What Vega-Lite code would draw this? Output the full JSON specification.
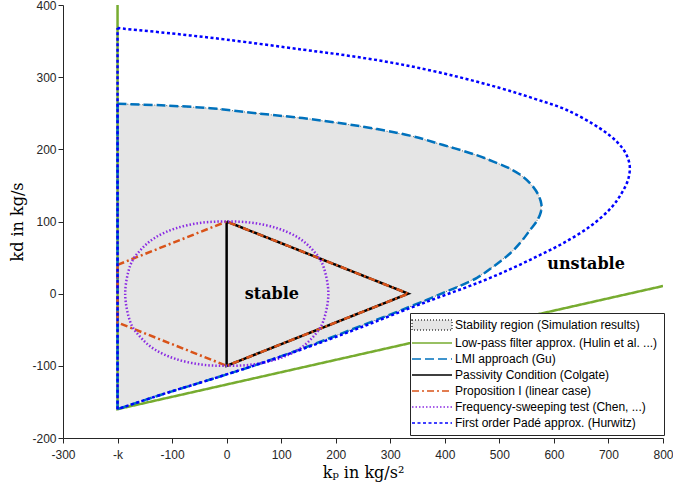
{
  "$schema": "https://vega.github.io/schema/vega-lite/v6.json",
  "width": 600,
  "height": 433,
  "autosize": "none",
  "padding": {"left": 63, "top": 5, "right": 10, "bottom": 50},
  "config": {
    "view": {"stroke": null},
    "axis": {
      "domainColor": "#262626", "tickColor": "#262626", "labelColor": "#262626", "zindex": 1,
      "labelFont": "Liberation Sans", "labelFontSize": 12, "tickSize": 5, "ticks": true, "grid": false,
      "titleFont": "DejaVu Serif", "titleFontSize": 16, "titleFontWeight": "normal", "titleColor": "black",
      "labelFlush": false, "labelOverlap": false, "labelBound": false
    }
  },
  "datasets": {
    "region": [
      {"i": 1, "kp": -200, "kd": -160, "series": "Stability region (Simulation results)"},
      {"i": 2, "kp": -200, "kd": 263, "series": "Stability region (Simulation results)"},
      {"i": 3, "kp": -120, "kd": 261, "series": "Stability region (Simulation results)"},
      {"i": 4, "kp": -30, "kd": 257, "series": "Stability region (Simulation results)"},
      {"i": 5, "kp": 61, "kd": 249.5, "series": "Stability region (Simulation results)"},
      {"i": 6, "kp": 153, "kd": 242, "series": "Stability region (Simulation results)"},
      {"i": 7, "kp": 245, "kd": 232, "series": "Stability region (Simulation results)"},
      {"i": 8, "kp": 336, "kd": 219, "series": "Stability region (Simulation results)"},
      {"i": 9, "kp": 397, "kd": 206, "series": "Stability region (Simulation results)"},
      {"i": 10, "kp": 458, "kd": 192, "series": "Stability region (Simulation results)"},
      {"i": 11, "kp": 489, "kd": 183, "series": "Stability region (Simulation results)"},
      {"i": 12, "kp": 520, "kd": 173, "series": "Stability region (Simulation results)"},
      {"i": 13, "kp": 545, "kd": 161, "series": "Stability region (Simulation results)"},
      {"i": 14, "kp": 562, "kd": 148, "series": "Stability region (Simulation results)"},
      {"i": 15, "kp": 572, "kd": 136, "series": "Stability region (Simulation results)"},
      {"i": 16, "kp": 577, "kd": 124, "series": "Stability region (Simulation results)"},
      {"i": 17, "kp": 576, "kd": 113, "series": "Stability region (Simulation results)"},
      {"i": 18, "kp": 569, "kd": 101, "series": "Stability region (Simulation results)"},
      {"i": 19, "kp": 556, "kd": 88, "series": "Stability region (Simulation results)"},
      {"i": 20, "kp": 540, "kd": 72, "series": "Stability region (Simulation results)"},
      {"i": 21, "kp": 520, "kd": 56, "series": "Stability region (Simulation results)"},
      {"i": 22, "kp": 490, "kd": 38, "series": "Stability region (Simulation results)"},
      {"i": 23, "kp": 459, "kd": 22, "series": "Stability region (Simulation results)"},
      {"i": 24, "kp": 397, "kd": 1, "series": "Stability region (Simulation results)"},
      {"i": 25, "kp": 336, "kd": -18, "series": "Stability region (Simulation results)"},
      {"i": 26, "kp": 245, "kd": -45, "series": "Stability region (Simulation results)"},
      {"i": 27, "kp": 153, "kd": -72, "series": "Stability region (Simulation results)"},
      {"i": 28, "kp": 61, "kd": -97, "series": "Stability region (Simulation results)"},
      {"i": 29, "kp": -30, "kd": -119, "series": "Stability region (Simulation results)"},
      {"i": 30, "kp": -120, "kd": -140, "series": "Stability region (Simulation results)"},
      {"i": 31, "kp": -200, "kd": -160, "series": "Stability region (Simulation results)"}
    ],
    "lowpass": [
      {"i": 1, "kp": -200, "kd": 400, "series": "Low-pass filter approx. (Hulin et al. ...)"},
      {"i": 2, "kp": -200, "kd": -160, "series": "Low-pass filter approx. (Hulin et al. ...)"},
      {"i": 3, "kp": 800, "kd": 10.6, "series": "Low-pass filter approx. (Hulin et al. ...)"}
    ],
    "lmiEdge": [
      {"i": 1, "kp": -200, "kd": -160, "series": "LMI approach (Gu)"},
      {"i": 2, "kp": -200, "kd": 263, "series": "LMI approach (Gu)"}
    ],
    "lmiCurve": [
      {"i": 1, "kp": -200, "kd": 263, "series": "LMI approach (Gu)"},
      {"i": 2, "kp": -120, "kd": 261, "series": "LMI approach (Gu)"},
      {"i": 3, "kp": -30, "kd": 257, "series": "LMI approach (Gu)"},
      {"i": 4, "kp": 61, "kd": 249.5, "series": "LMI approach (Gu)"},
      {"i": 5, "kp": 153, "kd": 242, "series": "LMI approach (Gu)"},
      {"i": 6, "kp": 245, "kd": 232, "series": "LMI approach (Gu)"},
      {"i": 7, "kp": 336, "kd": 219, "series": "LMI approach (Gu)"},
      {"i": 8, "kp": 397, "kd": 206, "series": "LMI approach (Gu)"},
      {"i": 9, "kp": 458, "kd": 192, "series": "LMI approach (Gu)"},
      {"i": 10, "kp": 489, "kd": 183, "series": "LMI approach (Gu)"},
      {"i": 11, "kp": 520, "kd": 173, "series": "LMI approach (Gu)"},
      {"i": 12, "kp": 545, "kd": 161, "series": "LMI approach (Gu)"},
      {"i": 13, "kp": 562, "kd": 148, "series": "LMI approach (Gu)"},
      {"i": 14, "kp": 572, "kd": 136, "series": "LMI approach (Gu)"},
      {"i": 15, "kp": 577, "kd": 124, "series": "LMI approach (Gu)"},
      {"i": 16, "kp": 576, "kd": 113, "series": "LMI approach (Gu)"},
      {"i": 17, "kp": 569, "kd": 101, "series": "LMI approach (Gu)"},
      {"i": 18, "kp": 556, "kd": 88, "series": "LMI approach (Gu)"},
      {"i": 19, "kp": 540, "kd": 72, "series": "LMI approach (Gu)"},
      {"i": 20, "kp": 520, "kd": 56, "series": "LMI approach (Gu)"},
      {"i": 21, "kp": 490, "kd": 38, "series": "LMI approach (Gu)"},
      {"i": 22, "kp": 459, "kd": 22, "series": "LMI approach (Gu)"},
      {"i": 23, "kp": 397, "kd": 1, "series": "LMI approach (Gu)"},
      {"i": 24, "kp": 336, "kd": -18, "series": "LMI approach (Gu)"},
      {"i": 25, "kp": 245, "kd": -45, "series": "LMI approach (Gu)"},
      {"i": 26, "kp": 153, "kd": -72, "series": "LMI approach (Gu)"},
      {"i": 27, "kp": 61, "kd": -97, "series": "LMI approach (Gu)"},
      {"i": 28, "kp": -30, "kd": -119, "series": "LMI approach (Gu)"},
      {"i": 29, "kp": -120, "kd": -140, "series": "LMI approach (Gu)"},
      {"i": 30, "kp": -200, "kd": -160, "series": "LMI approach (Gu)"}
    ],
    "passivity": [
      {"i": 1, "kp": 0, "kd": 100, "series": "Passivity Condition (Colgate)"},
      {"i": 2, "kp": 0, "kd": -100, "series": "Passivity Condition (Colgate)"},
      {"i": 3, "kp": 333, "kd": 0, "series": "Passivity Condition (Colgate)"},
      {"i": 4, "kp": 0, "kd": 100, "series": "Passivity Condition (Colgate)"}
    ],
    "prop": [
      {"i": 1, "kp": -200, "kd": 40, "series": "Proposition I (linear case)"},
      {"i": 2, "kp": 0, "kd": 100, "series": "Proposition I (linear case)"},
      {"i": 3, "kp": 333, "kd": 0, "series": "Proposition I (linear case)"},
      {"i": 4, "kp": 0, "kd": -100, "series": "Proposition I (linear case)"},
      {"i": 5, "kp": -200, "kd": -40, "series": "Proposition I (linear case)"},
      {"i": 6, "kp": -200, "kd": 40, "series": "Proposition I (linear case)"}
    ],
    "freq": [
      {"i": 1, "kp": 0, "kd": 100, "series": "Frequency-sweeping test (Chen, ...)"},
      {"i": 2, "kp": 47, "kd": 98.2, "series": "Frequency-sweeping test (Chen, ...)"},
      {"i": 3, "kp": 93, "kd": 90.6, "series": "Frequency-sweeping test (Chen, ...)"},
      {"i": 4, "kp": 131, "kd": 77.7, "series": "Frequency-sweeping test (Chen, ...)"},
      {"i": 5, "kp": 158, "kd": 60.3, "series": "Frequency-sweeping test (Chen, ...)"},
      {"i": 6, "kp": 177, "kd": 38.5, "series": "Frequency-sweeping test (Chen, ...)"},
      {"i": 7, "kp": 186.5, "kd": 0, "series": "Frequency-sweeping test (Chen, ...)"},
      {"i": 8, "kp": 177, "kd": -38.5, "series": "Frequency-sweeping test (Chen, ...)"},
      {"i": 9, "kp": 158, "kd": -60.3, "series": "Frequency-sweeping test (Chen, ...)"},
      {"i": 10, "kp": 131, "kd": -77.7, "series": "Frequency-sweeping test (Chen, ...)"},
      {"i": 11, "kp": 93, "kd": -90.6, "series": "Frequency-sweeping test (Chen, ...)"},
      {"i": 12, "kp": 47, "kd": -98.2, "series": "Frequency-sweeping test (Chen, ...)"},
      {"i": 13, "kp": 0, "kd": -100, "series": "Frequency-sweeping test (Chen, ...)"},
      {"i": 14, "kp": -47, "kd": -98.2, "series": "Frequency-sweeping test (Chen, ...)"},
      {"i": 15, "kp": -93, "kd": -90.6, "series": "Frequency-sweeping test (Chen, ...)"},
      {"i": 16, "kp": -131, "kd": -77.7, "series": "Frequency-sweeping test (Chen, ...)"},
      {"i": 17, "kp": -158, "kd": -60.3, "series": "Frequency-sweeping test (Chen, ...)"},
      {"i": 18, "kp": -177, "kd": -38.5, "series": "Frequency-sweeping test (Chen, ...)"},
      {"i": 19, "kp": -186, "kd": 0, "series": "Frequency-sweeping test (Chen, ...)"},
      {"i": 20, "kp": -177, "kd": 38.5, "series": "Frequency-sweeping test (Chen, ...)"},
      {"i": 21, "kp": -158, "kd": 60.3, "series": "Frequency-sweeping test (Chen, ...)"},
      {"i": 22, "kp": -131, "kd": 77.7, "series": "Frequency-sweeping test (Chen, ...)"},
      {"i": 23, "kp": -93, "kd": 90.6, "series": "Frequency-sweeping test (Chen, ...)"},
      {"i": 24, "kp": -47, "kd": 98.2, "series": "Frequency-sweeping test (Chen, ...)"}
    ],
    "padeEdge": [
      {"i": 1, "kp": -200, "kd": -160, "series": "First order Padé approx. (Hurwitz)"},
      {"i": 2, "kp": -200, "kd": 368, "series": "First order Padé approx. (Hurwitz)"}
    ],
    "padeCurve": [
      {"i": 1, "kp": -200, "kd": 368, "series": "First order Padé approx. (Hurwitz)"},
      {"i": 2, "kp": -100, "kd": 360.5, "series": "First order Padé approx. (Hurwitz)"},
      {"i": 3, "kp": 0, "kd": 352, "series": "First order Padé approx. (Hurwitz)"},
      {"i": 4, "kp": 141, "kd": 338, "series": "First order Padé approx. (Hurwitz)"},
      {"i": 5, "kp": 230, "kd": 329, "series": "First order Padé approx. (Hurwitz)"},
      {"i": 6, "kp": 318, "kd": 318, "series": "First order Padé approx. (Hurwitz)"},
      {"i": 7, "kp": 410, "kd": 303, "series": "First order Padé approx. (Hurwitz)"},
      {"i": 8, "kp": 501, "kd": 285, "series": "First order Padé approx. (Hurwitz)"},
      {"i": 9, "kp": 565, "kd": 270, "series": "First order Padé approx. (Hurwitz)"},
      {"i": 10, "kp": 623.5, "kd": 254.5, "series": "First order Padé approx. (Hurwitz)"},
      {"i": 11, "kp": 684.5, "kd": 229, "series": "First order Padé approx. (Hurwitz)"},
      {"i": 12, "kp": 716, "kd": 210, "series": "First order Padé approx. (Hurwitz)"},
      {"i": 13, "kp": 732, "kd": 194, "series": "First order Padé approx. (Hurwitz)"},
      {"i": 14, "kp": 739, "kd": 177, "series": "First order Padé approx. (Hurwitz)"},
      {"i": 15, "kp": 736, "kd": 158, "series": "First order Padé approx. (Hurwitz)"},
      {"i": 16, "kp": 724, "kd": 139, "series": "First order Padé approx. (Hurwitz)"},
      {"i": 17, "kp": 705, "kd": 119, "series": "First order Padé approx. (Hurwitz)"},
      {"i": 18, "kp": 666, "kd": 93, "series": "First order Padé approx. (Hurwitz)"},
      {"i": 19, "kp": 617, "kd": 70, "series": "First order Padé approx. (Hurwitz)"},
      {"i": 20, "kp": 570, "kd": 52, "series": "First order Padé approx. (Hurwitz)"},
      {"i": 21, "kp": 520, "kd": 34, "series": "First order Padé approx. (Hurwitz)"},
      {"i": 22, "kp": 464, "kd": 16, "series": "First order Padé approx. (Hurwitz)"},
      {"i": 23, "kp": 400, "kd": -2, "series": "First order Padé approx. (Hurwitz)"},
      {"i": 24, "kp": 336, "kd": -20, "series": "First order Padé approx. (Hurwitz)"},
      {"i": 25, "kp": 245, "kd": -47, "series": "First order Padé approx. (Hurwitz)"},
      {"i": 26, "kp": 153, "kd": -73, "series": "First order Padé approx. (Hurwitz)"},
      {"i": 27, "kp": 61, "kd": -97, "series": "First order Padé approx. (Hurwitz)"},
      {"i": 28, "kp": -30, "kd": -119, "series": "First order Padé approx. (Hurwitz)"},
      {"i": 29, "kp": -120, "kd": -140, "series": "First order Padé approx. (Hurwitz)"},
      {"i": 30, "kp": -200, "kd": -160, "series": "First order Padé approx. (Hurwitz)"}
    ],
    "labels": [
      {"kp": 83, "kd": 0, "label": "stable"},
      {"kp": 659, "kd": 41, "label": "unstable"}
    ]
  },
  "encoding": {
    "x": {
      "field": "kp", "type": "quantitative",
      "scale": {"domain": [-300, 800], "nice": false, "zero": false},
      "axis": {
        "values": [-300, -200, -100, 0, 100, 200, 300, 400, 500, 600, 700, 800],
        "labelExpr": "datum.value == -200 ? '-k' : '' + datum.value",
        "labelPadding": 6, "title": "kₚ in kg/s²", "titlePadding": 4,
        "encode": {"ticks": {"y2": {"value": -5}}}
      }
    },
    "y": {
      "field": "kd", "type": "quantitative",
      "scale": {"domain": [-200, 400], "nice": false, "zero": false},
      "axis": {
        "values": [-200, -100, 0, 100, 200, 300, 400],
        "labelExpr": "'' + datum.value",
        "labelPadding": 2, "title": "kd in kg/s", "titlePadding": 6,
        "encode": {"ticks": {"x2": {"value": 5}}}
      }
    }
  },
  "layer": [
    {
      "data": {"name": "region"},
      "mark": {"type": "line", "fill": "#e5e5e5", "clip": true},
      "encoding": {
        "order": {"field": "i", "type": "quantitative"},
        "color": {
          "field": "series", "type": "nominal",
          "scale": {
            "domain": ["Stability region (Simulation results)", "Low-pass filter approx. (Hulin et al. ...)", "LMI approach (Gu)", "Passivity Condition (Colgate)", "Proposition I (linear case)", "Frequency-sweeping test (Chen, ...)", "First order Padé approx. (Hurwitz)"],
            "range": ["#444444", "#77AC30", "#0072BD", "#000000", "#D95319", "#8A2BE2", "#0000FF"]
          },
          "legend": {
            "title": null, "orient": "none", "legendX": 347, "legendY": 308,
            "symbolType": "stroke", "symbolSize": 100, "symbolOffset": 10,
            "labelFont": "Liberation Sans", "labelFontSize": 12, "labelColor": "black",
            "strokeColor": "#262626", "fillColor": "white", "padding": 6,
            "rowPadding": 4, "labelOffset": 17, "labelLimit": 400,
            "encode": {
              "symbols": {
                "strokeDash": {"value": {"expr": "scale('strokeDash', datum.value)"}},
                "strokeWidth": {"value": {"expr": "scale('strokeWidth', datum.value)"}},
                "opacity": {"value": 1}
              }
            }
          }
        },
        "strokeDash": {
          "field": "series", "type": "nominal", "legend": null,
          "scale": {
            "type": "ordinal",
            "domain": ["Stability region (Simulation results)", "Low-pass filter approx. (Hulin et al. ...)", "LMI approach (Gu)", "Passivity Condition (Colgate)", "Proposition I (linear case)", "Frequency-sweeping test (Chen, ...)", "First order Padé approx. (Hurwitz)"],
            "range": [[1, 2], [1, 0], [9, 4], [1, 0], [7, 3, 2, 3], [1.5, 2], [3, 2.5]]
          }
        },
        "strokeWidth": {
          "field": "series", "type": "nominal", "legend": null,
          "scale": {
            "type": "ordinal",
            "domain": ["Stability region (Simulation results)", "Low-pass filter approx. (Hulin et al. ...)", "LMI approach (Gu)", "Passivity Condition (Colgate)", "Proposition I (linear case)", "Frequency-sweeping test (Chen, ...)", "First order Padé approx. (Hurwitz)"],
            "range": [0.8, 1.2, 1.3, 3.2, 2.2, 1.3, 3]
          }
        }
      }
    },
    {
      "data": {"name": "region"},
      "mark": {"type": "point", "opacity": 0},
      "encoding": {
        "shape": {
          "field": "series", "type": "nominal",
          "scale": {
            "domain": ["Stability region (Simulation results)", "Low-pass filter approx. (Hulin et al. ...)", "LMI approach (Gu)", "Passivity Condition (Colgate)", "Proposition I (linear case)", "Frequency-sweeping test (Chen, ...)", "First order Padé approx. (Hurwitz)"],
            "range": ["M-4,-1L4,-1L4,1L-4,1Z", "M-4,0L4,0", "M-4,0L4,0", "M-4,0L4,0", "M-4,0L4,0", "M-4,0L4,0", "M-4,0L4,0"]
          }
        },
        "fill": {
          "field": "series", "type": "nominal",
          "scale": {
            "domain": ["Stability region (Simulation results)", "Low-pass filter approx. (Hulin et al. ...)", "LMI approach (Gu)", "Passivity Condition (Colgate)", "Proposition I (linear case)", "Frequency-sweeping test (Chen, ...)", "First order Padé approx. (Hurwitz)"],
            "range": ["#e5e5e5", "transparent", "transparent", "transparent", "transparent", "transparent", "transparent"]
          }
        }
      }
    },
    {
      "data": {"name": "lowpass"},
      "mark": {"type": "line", "clip": true},
      "encoding": {
        "order": {"field": "i", "type": "quantitative"},
        "color": {"field": "series", "type": "nominal"},
        "strokeDash": {"field": "series", "type": "nominal", "legend": null},
        "strokeWidth": {"field": "series", "type": "nominal", "legend": null}
      }
    },
    {
      "data": {"name": "lmiEdge"},
      "mark": {"type": "line", "clip": true},
      "encoding": {
        "order": {"field": "i", "type": "quantitative"},
        "color": {"field": "series", "type": "nominal"},
        "strokeDash": {"field": "series", "type": "nominal", "legend": null},
        "strokeWidth": {"field": "series", "type": "nominal", "legend": null}
      }
    },
    {
      "data": {"name": "lmiCurve"},
      "mark": {"type": "line", "interpolate": "catmull-rom", "clip": true},
      "encoding": {
        "order": {"field": "i", "type": "quantitative"},
        "color": {"field": "series", "type": "nominal"},
        "strokeDash": {"field": "series", "type": "nominal", "legend": null},
        "strokeWidth": {"field": "series", "type": "nominal", "legend": null}
      }
    },
    {
      "data": {"name": "passivity"},
      "mark": {"type": "line", "clip": true},
      "encoding": {
        "order": {"field": "i", "type": "quantitative"},
        "color": {"field": "series", "type": "nominal"},
        "strokeDash": {"field": "series", "type": "nominal", "legend": null},
        "strokeWidth": {"field": "series", "type": "nominal", "legend": null}
      }
    },
    {
      "data": {"name": "prop"},
      "mark": {"type": "line", "clip": true},
      "encoding": {
        "order": {"field": "i", "type": "quantitative"},
        "color": {"field": "series", "type": "nominal"},
        "strokeDash": {"field": "series", "type": "nominal", "legend": null},
        "strokeWidth": {"field": "series", "type": "nominal", "legend": null}
      }
    },
    {
      "data": {"name": "freq"},
      "mark": {"type": "line", "interpolate": "cardinal-closed", "clip": true},
      "encoding": {
        "order": {"field": "i", "type": "quantitative"},
        "color": {"field": "series", "type": "nominal"},
        "strokeDash": {"field": "series", "type": "nominal", "legend": null},
        "strokeWidth": {"field": "series", "type": "nominal", "legend": null}
      }
    },
    {
      "data": {"name": "padeEdge"},
      "mark": {"type": "line", "clip": true},
      "encoding": {
        "order": {"field": "i", "type": "quantitative"},
        "color": {"field": "series", "type": "nominal"},
        "strokeDash": {"field": "series", "type": "nominal", "legend": null},
        "strokeWidth": {"field": "series", "type": "nominal", "legend": null}
      }
    },
    {
      "data": {"name": "padeCurve"},
      "mark": {"type": "line", "interpolate": "catmull-rom", "clip": true},
      "encoding": {
        "order": {"field": "i", "type": "quantitative"},
        "color": {"field": "series", "type": "nominal"},
        "strokeDash": {"field": "series", "type": "nominal", "legend": null},
        "strokeWidth": {"field": "series", "type": "nominal", "legend": null}
      }
    },
    {
      "data": {"name": "labels"},
      "mark": {"type": "text", "font": "DejaVu Serif", "fontWeight": "bold", "fontSize": 16, "color": "black", "align": "center", "baseline": "middle"},
      "encoding": {
        "text": {"field": "label", "type": "nominal"}
      }
    }
  ]
}
